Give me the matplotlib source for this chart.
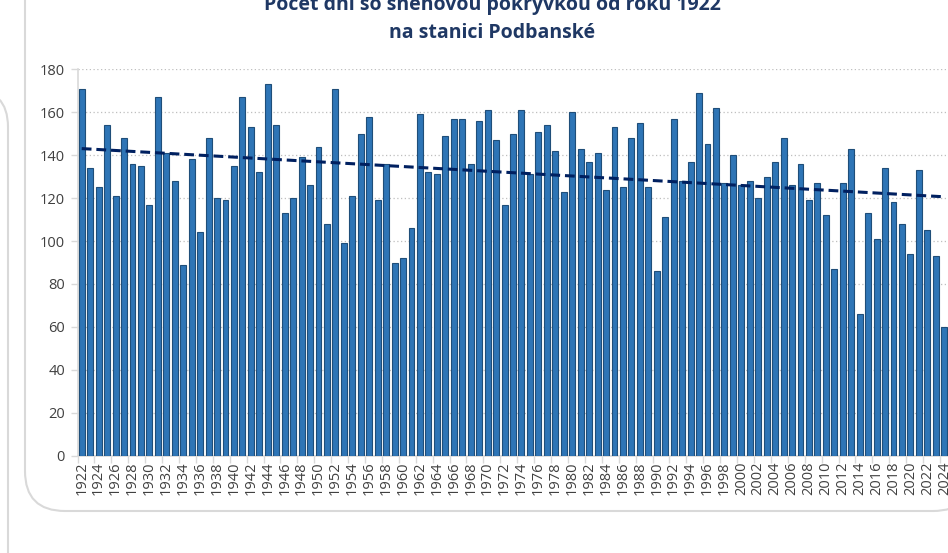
import numpy as np
import matplotlib
matplotlib.use("Agg")
import matplotlib.pyplot as plt
from matplotlib.patches import FancyBboxPatch

years = list(range(1922, 2025))
days = [171, 134, 125, 154, 121, 148, 136, 135, 117, 167,
        141, 128, 89, 138, 104, 148, 120, 119, 135, 167,
        153, 132, 173, 154, 113, 120, 139, 126, 144, 108,
        171, 99, 121, 150, 158, 119, 136, 90, 92, 106,
        159, 132, 131, 149, 157, 157, 136, 156, 161, 147,
        117, 150, 161, 131, 151, 154, 142, 123, 160, 143,
        137, 141, 124, 153, 125, 148, 155, 125, 86, 111,
        157, 128, 137, 169, 145, 162, 127, 140, 126, 128,
        120, 130, 137, 148, 126, 136, 119, 127, 112, 87,
        127, 143, 66, 113, 101, 134, 118, 108, 94, 133,
        105, 93, 60]
title_lines = ["Počet dní so snehovou pokrývkou od roku 1922", "na stanici Podbanské"]
yticks = [0, 20, 40, 60, 80, 100, 120, 140, 160, 180]

W, H = 948, 553
fig = plt.figure(figsize=(W / 100, H / 100), dpi=100)
fig.patch.set_facecolor("white")


def panel(left, top, right, bottom, radius):
    # pixel coordinates from top-left -> inches from bottom-left
    p = FancyBboxPatch((left / 100, (H - bottom) / 100),
                       (right - left) / 100, (bottom - top) / 100,
                       boxstyle="round,pad=0,rounding_size=%f" % (radius / 100),
                       transform=fig.dpi_scale_trans, facecolor="white",
                       edgecolor="#D9D9D9", linewidth=1.5, zorder=0)
    fig.add_artist(p)


panel(-300, 89, 8, 700, 38)
panel(25, -100, 973, 511, 40)

ax_l, ax_r = 77.5, 948.5
ax_t, ax_b = 69.3, 455.7
ax = fig.add_axes([ax_l / W, (H - ax_b) / H, (ax_r - ax_l) / W, (ax_b - ax_t) / H])
ax.set_facecolor("none")

x = np.arange(len(years))
ax.bar(x, days, width=0.7, color="#2E75B6", edgecolor="#1F4E79", linewidth=0.8, zorder=3)

coef = np.polyfit(x, np.array(days, dtype=float), 1)
ax.plot(x, np.polyval(coef, x), color="#002060", linestyle=(0, (3.2, 1.6)),
        linewidth=2.2, zorder=4)

ax.set_xlim(-0.5, len(years) - 0.5)
ax.set_ylim(0, 180)
ax.set_yticks(yticks)
ax.set_yticklabels([str(v) for v in yticks])
ax.grid(axis="y", color="#BFBFBF", linestyle=(0, (1, 2)), linewidth=0.9, zorder=0)

ax.set_xticks(x[::2])
ax.set_xticklabels([str(y) for y in years[::2]], rotation=90)
ax.set_xticks(np.arange(-0.5, len(years), 2), minor=True)
ax.tick_params(axis="x", which="major", length=0, pad=4)
ax.tick_params(axis="x", which="minor", length=5, color="#D9D9D9", width=1)
ax.tick_params(axis="y", length=5, color="#D9D9D9", width=1, pad=4)
for lab in ax.get_xticklabels() + ax.get_yticklabels():
    lab.set_fontsize(10.5)
    lab.set_color("#404040")
    lab.set_family(["Open Sans", "DejaVu Sans"])

for s in ["top", "right"]:
    ax.spines[s].set_visible(False)
for s in ["left", "bottom"]:
    ax.spines[s].set_color("#D9D9D9")
    ax.spines[s].set_linewidth(1.2)

fig.text(492 / W, 1 - 5 / H, title_lines[0], ha="center", va="center",
         fontsize=14, fontweight="bold", color="#1F3864",
         family=["Open Sans", "DejaVu Sans"])
fig.text(492 / W, 1 - 33 / H, title_lines[1], ha="center", va="center",
         fontsize=14, fontweight="bold", color="#1F3864",
         family=["Open Sans", "DejaVu Sans"])

fig.savefig("out.png", dpi=100, facecolor="white")
